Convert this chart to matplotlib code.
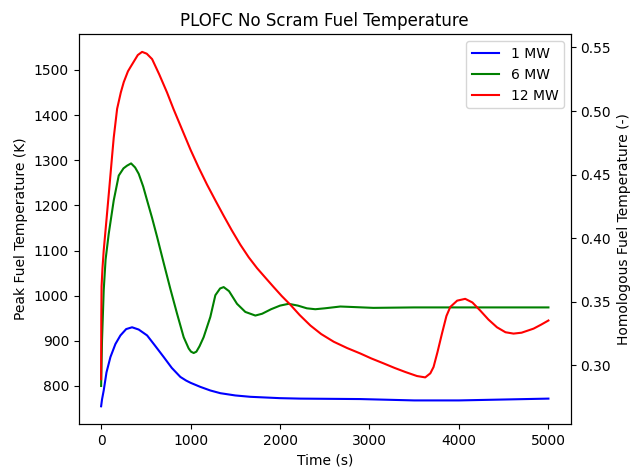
import numpy as np
import matplotlib
matplotlib.use('Agg')
import matplotlib.pyplot as plt

# ─── Data
#
t_1mw = [0, 10, 29, 60, 104, 160, 216, 280, 346, 420, 514, 600, 700, 790, 886,
         950, 1000, 1109, 1221, 1333, 1500, 1668, 2000, 2226, 2897, 3500, 4000, 4500, 5000]
T_1mw = [755, 770, 790, 830, 864, 893, 912, 926, 930, 925, 912, 890, 864, 840, 820,
         812, 807, 798, 790, 784, 779, 776, 773, 772, 771, 768, 768, 770, 772]

t_6mw = [0, 10, 29, 50, 85, 141, 197, 250, 290, 335, 380, 420, 470, 514, 570, 626,
         700, 774, 849, 923, 979, 1005, 1035, 1065, 1100, 1146, 1221, 1277, 1330,
         1370, 1430, 1519, 1612, 1724, 1800, 1900, 2000, 2096, 2200, 2300, 2394,
         2500, 2674, 2800, 3043, 3500, 4000, 5000]
T_6mw = [800, 900, 1012, 1080, 1137, 1211, 1266, 1282, 1288, 1293, 1284, 1270, 1242,
         1211, 1172, 1130, 1072, 1015, 960, 908, 883, 876, 873, 876, 888, 908, 953,
         1001, 1016, 1019, 1010, 982, 964, 956, 960, 970, 978, 982, 978, 972, 970,
         972, 976, 975, 973, 974, 974, 974]

t_12mw = [0, 2, 5, 15, 29, 59, 90, 123, 141, 179, 220, 253, 300, 327, 370, 410, 458,
          510, 570, 650, 737, 810, 886, 1000, 1090, 1184, 1280, 1370, 1460, 1556,
          1650, 1743, 1840, 1929, 2020, 2115, 2220, 2339, 2460, 2600, 2750, 2897,
          3020, 3158, 3280, 3400, 3531, 3623, 3680, 3716, 3760, 3810, 3860, 3903,
          3980, 4070, 4150, 4238, 4330, 4425, 4520, 4610, 4700, 4834, 4920, 5000]
T_12mw = [815, 950, 1020, 1060, 1100, 1166, 1235, 1310, 1350, 1414, 1450, 1473, 1497,
          1506, 1520, 1533, 1540, 1536, 1524, 1490, 1450, 1413, 1377, 1323, 1284,
          1246, 1210, 1177, 1145, 1113, 1085, 1061, 1039, 1019, 999, 980, 957, 934,
          915, 898, 884, 872, 861, 850, 840, 831, 822, 819, 828, 842, 875, 916, 955,
          975, 989, 993, 985, 967, 947, 930, 919, 916, 918, 927, 936, 945]

T_melt = 2818.0  # scale for homologous temperature axis

fig, ax = plt.subplots(figsize=(6.3, 4.68), dpi=100)
fig.subplots_adjust(left=0.125, right=0.906, top=0.927, bottom=0.094)

ax.plot(t_1mw, T_1mw, color='blue', label='1 MW')
ax.plot(t_6mw, T_6mw, color='green', label='6 MW')
ax.plot(t_12mw, T_12mw, color='red', label='12 MW')

ax.set_xlabel('Time (s)')
ax.set_ylabel('Peak Fuel Temperature (K)')
ax.set_title('PLOFC No Scram Fuel Temperature')
ax.set_xticks([0, 1000, 2000, 3000, 4000, 5000])
ax.legend(loc='upper right')

# ─── Homologous axis on the right
#
ax2 = ax.twinx()
lo, hi = ax.get_ylim()
ax2.set_ylim(lo / T_melt, hi / T_melt)
ax2.set_yticks([0.30, 0.35, 0.40, 0.45, 0.50, 0.55])
ax2.set_ylabel('Homologous Fuel Temperature (-)')

plt.savefig('out.png', dpi=100)
plt.close(fig)
